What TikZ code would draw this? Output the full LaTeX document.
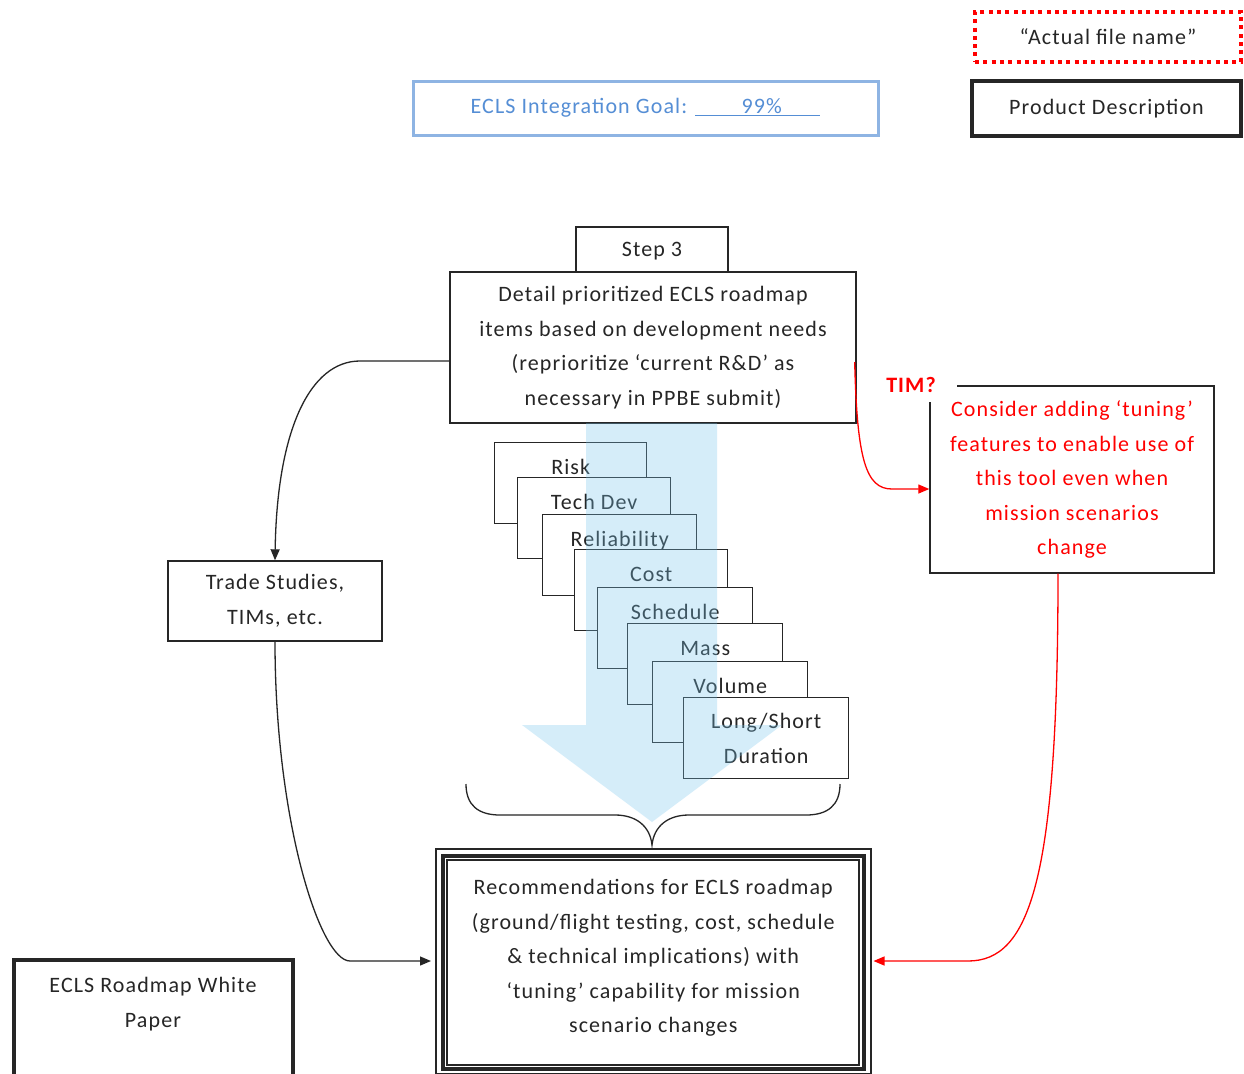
\documentclass[tikz,border=0pt]{standalone}
\usepackage{fontspec}
\setmainfont{Carlito}[LetterSpace=5.0]
\usetikzlibrary{arrows.meta}
\definecolor{ink}{RGB}{38,38,38}
\definecolor{goalblue}{RGB}{85,142,213}
\definecolor{goalframe}{RGB}{142,180,227}
\definecolor{flowblue}{RGB}{118,198,238}
\begin{document}
\begin{tikzpicture}[x=1pt,y=-1pt,
  every node/.style={font=\fontsize{22}{34.5}\selectfont, text=ink},
  box/.style={draw=ink, line width=1.4pt, fill=white, align=center, inner sep=0pt},
  stackbox/.style={draw=ink, line width=1.4pt, fill=white, inner sep=0pt,
    anchor=north west, minimum width=#1, text height=32pt, text depth=49pt},
  conn/.style={draw=ink, line width=1.3pt, -{Triangle[length=11pt,width=9pt]}},
  redconn/.style={draw=red, line width=1.3pt, -{Triangle[length=11pt,width=9pt]}},
]
\useasboundingbox (0,0) rectangle (1244,1073);
\clip (0,0) rectangle (1244,1073);
\fill[white] (0,0) rectangle (1244,1073);

% header boxes
\node[draw=red, line width=4pt, dash pattern=on 4pt off 4.3pt,
  minimum width=266pt, minimum height=50pt, inner sep=0pt] (fname) at (1108,37) {“Actual file name”};
\node[draw=ink, line width=4pt, minimum width=269pt, minimum height=55pt,
  inner sep=0pt] (prod) at (1106.5,108.5) {Product Description};
\node[draw=goalframe, line width=3pt, fill=white, text=goalblue,
  minimum width=465pt, minimum height=54pt, inner sep=0pt] (goal) at (645.5,108)
  {ECLS Integration Goal: \underline{\makebox[125pt]{\hspace{8pt}99\%}}};

% step 3
\node[box, minimum width=152pt, minimum height=45pt, text height=15pt, text depth=1pt] (step) at (652,249.5) {Step 3};
\node[box, minimum width=406pt, minimum height=151pt] (detail) at (653,347.5)
  {Detail prioritized ECLS roadmap\\items based on development needs\\(reprioritize ‘current R\&D’ as\\necessary in PPBE submit)};

% stacked criteria
\node[stackbox=152pt] (risk) at (494,442) {Risk};
\node[stackbox=153pt] (tech) at (517,477) {Tech Dev};
\node[stackbox=154pt] (rel)  at (542,514) {Reliability};
\node[stackbox=153pt] (cost) at (574,549) {Cost};
\node[stackbox=155pt] (sched) at (597,587) {Schedule};
\node[stackbox=155pt] (mass) at (627,623) {Mass};
\node[stackbox=155pt] (vol)  at (652,661) {Volume};
\node[box, anchor=north west, minimum width=165pt, minimum height=81pt] (dur) at (683,697) {Long/Short\\Duration};

% flow arrow through the criteria
\fill[flowblue, fill opacity=0.3] (586,423) -- (717,423) -- (717,725) -- (782,725)
  -- (652,822) -- (522,725) -- (586,725) -- cycle;

% brace
\draw[ink, line width=1.3pt] (466,784) .. controls (466,805) and (478,815) .. (500,815)
  -- (615,815) .. controls (636,815) and (650,826) .. (652,845)
  .. controls (654,826) and (668,815) .. (689,815) -- (806,815)
  .. controls (828,815) and (840,805) .. (840,784);

% side boxes
\node[box, minimum width=214pt, minimum height=80pt] (trade) at (275,601) {Trade Studies,\\TIMs, etc.};
\node[box, text=red, minimum width=284pt, minimum height=187pt] (tune) at (1072,479.5)
  {Consider adding ‘tuning’\\features to enable use of\\this tool even when\\mission scenarios\\change};
\node[font=\fontsize{22}{34.5}\selectfont\bfseries, text=red, fill=white,
  minimum width=92pt, minimum height=34pt, inner sep=0pt] (tim) at (911,385) {TIM?};

% result box with triple frame
\node[draw=ink, line width=4pt, fill=white, minimum width=420.5pt, minimum height=213pt,
  inner sep=0pt] (rec) at (653.25,962)
  {\raisebox{5pt}[\height][\depth]{\begin{tabular}{@{}c@{}}Recommendations for ECLS roadmap\\(ground/flight testing, cost, schedule\\\& technical implications) with\\‘tuning’ capability for mission\\scenario changes\end{tabular}}};
\draw[ink, line width=1.3pt] ([xshift=-5pt,yshift=4.5pt]rec.north west) rectangle ([xshift=5.5pt,yshift=-3.5pt]rec.south east);
\draw[ink, line width=1.3pt] ([xshift=6pt,yshift=-6.5pt]rec.north west) rectangle ([xshift=-6.5pt,yshift=5.5pt]rec.south east);

\node[draw=ink, line width=4pt, fill=white, align=center, minimum width=279pt,
  minimum height=130pt, inner sep=0pt] (paper) at (153,1025) {ECLS Roadmap White\\Paper\\\strut};

% connectors
\draw[conn] ([yshift=-13.5pt]detail.west) -- (360,361) .. controls (310,361) and (277,430) .. (trade.north);
\draw[conn] (trade.south) .. controls (275,820) and (320,961) .. (350,961) -- ([xshift=-10pt,yshift=1pt]rec.west);
\draw[redconn] ([xshift=-2pt,yshift=-14.5pt]detail.east) .. controls (857,460) and (866,489) .. (892,489) -- ([yshift=-9.5pt]tune.west);
\draw[redconn] ([xshift=-14pt]tune.south) .. controls (1058,880) and (1030,961) .. (968,961) -- ([xshift=8pt,yshift=1pt]rec.east);
\end{tikzpicture}
\end{document}
